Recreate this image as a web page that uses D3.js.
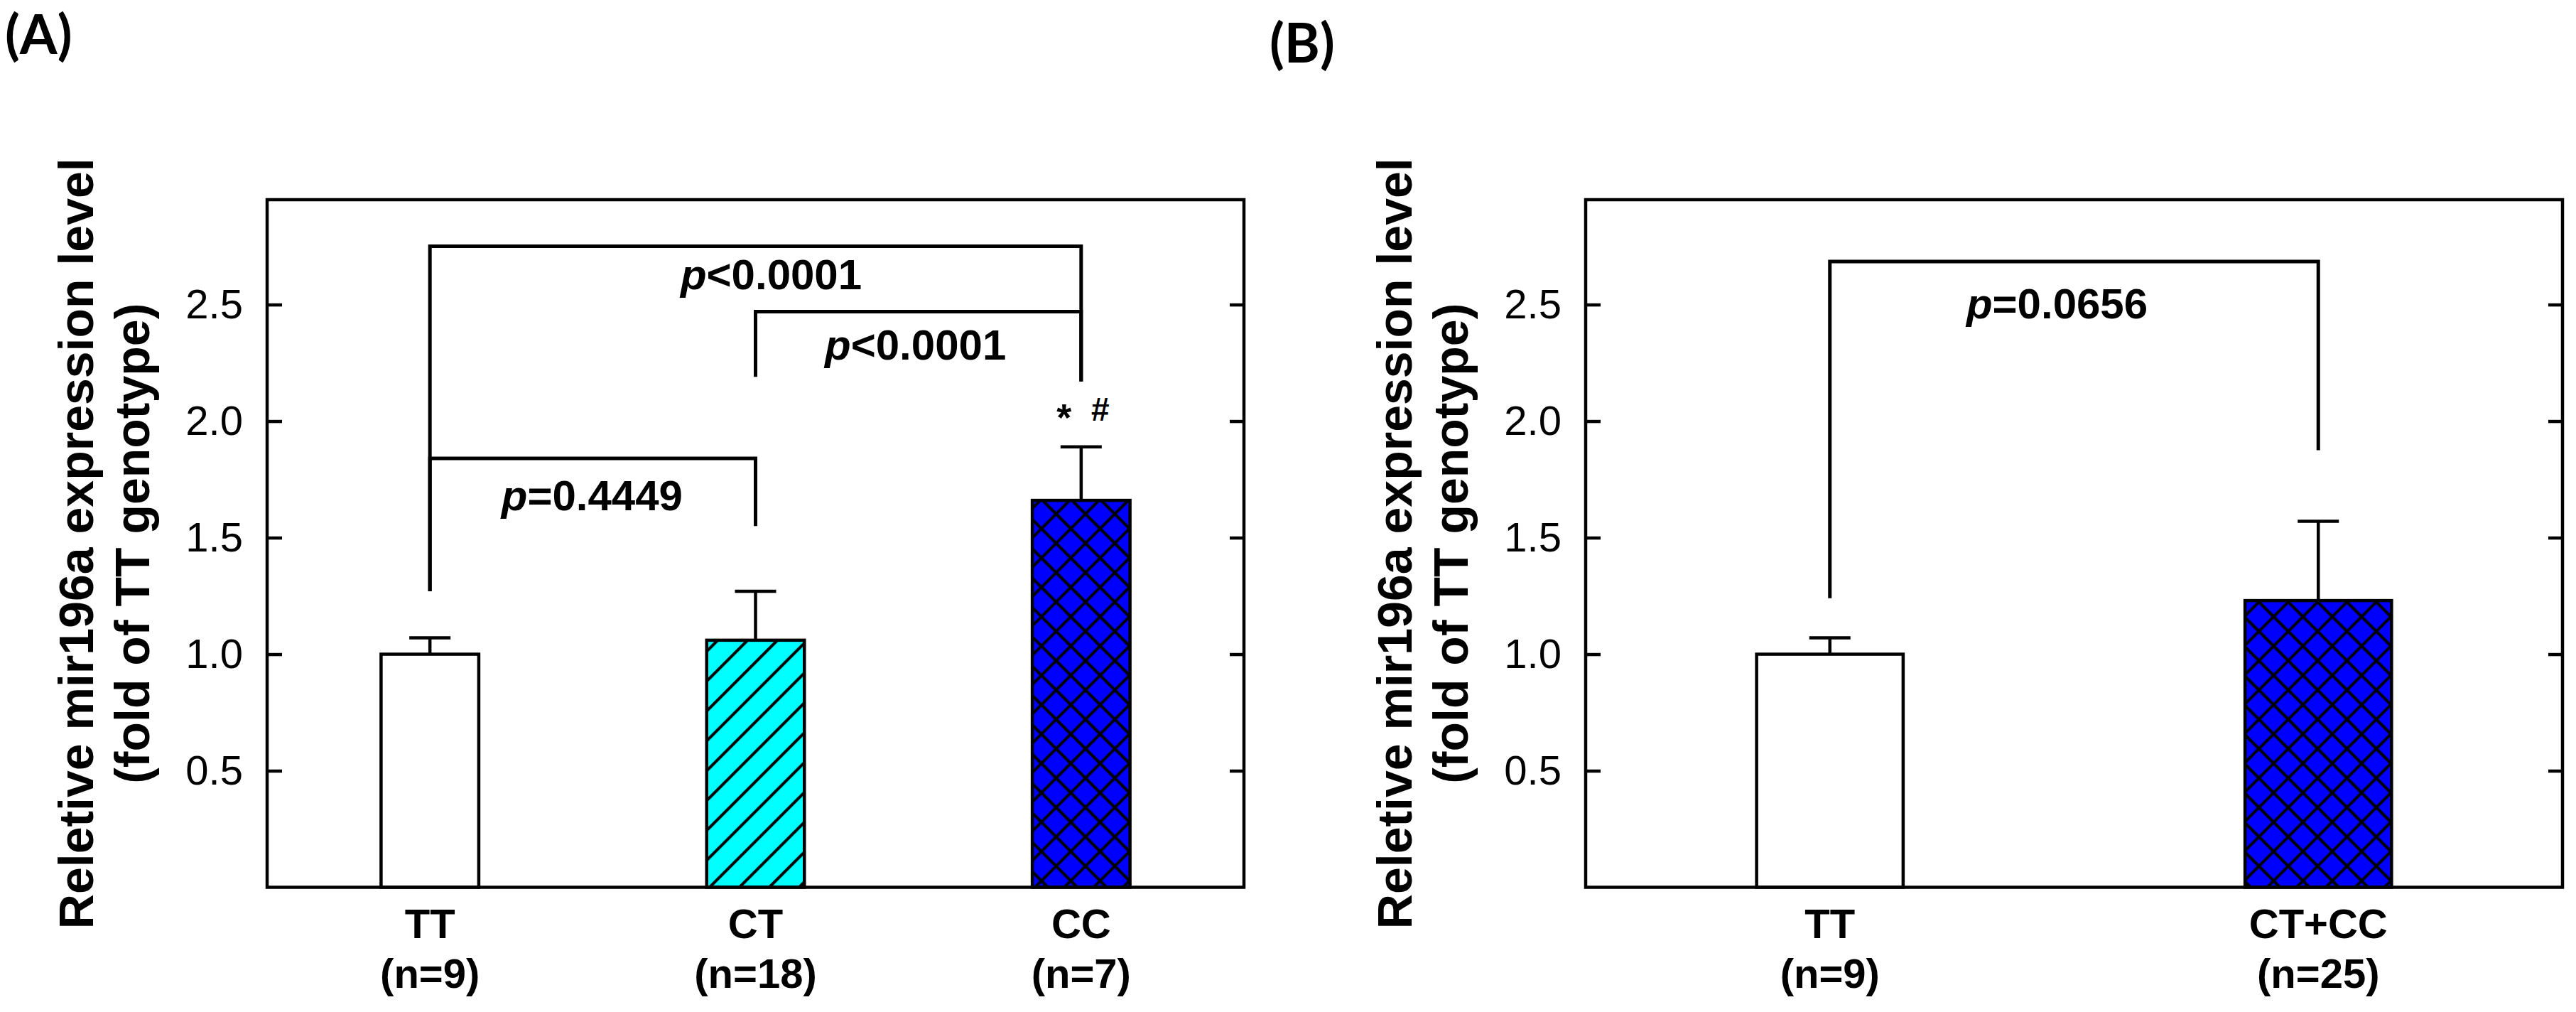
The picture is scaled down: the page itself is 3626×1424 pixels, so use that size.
<!DOCTYPE html>
<html>
<head>
<meta charset="utf-8">
<title>mir196a expression by genotype</title>
<script src="https://d3js.org/d3.v7.min.js"></script>
<style>
  body { margin: 0; background: #fff; }
  text { font-family: "Liberation Sans", Arial, sans-serif; fill: #000; }
  .bold { font-weight: bold; }
  .tag { font-family: Lato, "Open Sans", sans-serif; font-weight: bold; font-size: 76px; }
</style>
</head>
<body>
<div id="chart"></div>
<script>
    const width = 3626;
    const height = 1424;

    // panel A: three genotypes
    const genotypesA = ["TT", "CT", "CC"];
    const countsA = ["(n=9)", "(n=18)", "(n=7)"];
    const meansA = [1.00, 1.06, 1.66];
    const errorsA = [0.07, 0.21, 0.23];

    // panel B: TT vs carriers
    const genotypesB = ["TT", "CT+CC"];
    const countsB = ["(n=9)", "(n=25)"];
    const meansB = [1.00, 1.23];
    const errorsB = [0.07, 0.34];

    const yTicks = [0.5, 1.0, 1.5, 2.0, 2.5];
    const yMax = 2.95;

    // significance brackets, heights in data units
    const bracketsA = [
        { from: "TT", to: "CC", level: 2.75, legFrom: 1.27, legTo: 2.17, op: "<", p: "0.0001", textAt: 2.565 },
        { from: "CT", to: "CC", level: 2.47, legFrom: 2.19, legTo: 2.17, op: "<", p: "0.0001", textAt: 2.265 },
        { from: "TT", to: "CT", level: 1.84, legFrom: 1.27, legTo: 1.55, op: "=", p: "0.4449", textAt: 1.617 }
    ];
    const bracketsB = [
        { from: "TT", to: "CT+CC", level: 2.685, legFrom: 1.24, legTo: 1.875, op: "=", p: "0.0656", textAt: 2.44 }
    ];

    // marks above the CC bar
    const marksA = [{ cat: "CC", symbols: ["*", "#"], at: 2.02 }];

    const yTitle = ["Reletive mir196a expression level", "(fold of TT genotype)"];

    // layout
    const plotTop = 281, plotBottom = 1248.5, plotWidth = 1375;
    const lw = 4.5;

    const svg = d3.select("#chart")
        .append("svg")
        .attr("width", width)
        .attr("height", height);

    const defs = svg.append("defs");

    // cyan with "/" hatching
    const diag = defs.append("pattern")
        .attr("id", "diag")
        .attr("patternUnits", "userSpaceOnUse")
        .attr("width", 29.7).attr("height", 29.7)
        .attr("patternTransform", "rotate(45)");
    diag.append("rect").attr("width", 29.7).attr("height", 29.7).attr("fill", "#00ffff");
    diag.append("line").attr("x1", 15).attr("y1", -1).attr("x2", 15).attr("y2", 31)
        .attr("stroke", "#000").attr("stroke-width", 4);

    // blue with cross hatching
    const cross = defs.append("pattern")
        .attr("id", "cross")
        .attr("patternUnits", "userSpaceOnUse")
        .attr("width", 29.2).attr("height", 29.2)
        .attr("patternTransform", "rotate(45)");
    cross.append("rect").attr("width", 29.2).attr("height", 29.2).attr("fill", "#0000ff");
    cross.append("line").attr("x1", 15).attr("y1", -1).attr("x2", 15).attr("y2", 31)
        .attr("stroke", "#000").attr("stroke-width", 4);
    cross.append("line").attr("x1", -1).attr("y1", 15).attr("x2", 31).attr("y2", 15)
        .attr("stroke", "#000").attr("stroke-width", 4);

    const y = d3.scaleLinear().domain([0, yMax]).range([plotBottom, plotTop]);

    function drawPanel(opt) {
        const left = opt.left;
        const g = svg.append("g");

        const x = d3.scaleBand()
            .domain(opt.cats)
            .range([left, left + plotWidth])
            .paddingInner(0.7)
            .paddingOuter(0.35);
        const cx = c => x(c) + x.bandwidth() / 2;

        // bars
        g.selectAll("rect.bar")
            .data(opt.cats)
            .enter()
            .append("rect")
            .attr("class", "bar")
            .attr("x", d => x(d))
            .attr("y", (d, i) => y(opt.means[i]))
            .attr("width", x.bandwidth())
            .attr("height", (d, i) => y(0) - y(opt.means[i]))
            .attr("fill", (d, i) => opt.fills[i])
            .attr("stroke", "#000")
            .attr("stroke-width", lw);

        // error bars (upper only)
        opt.cats.forEach((c, i) => {
            const top = y(opt.means[i] + opt.errs[i]);
            g.append("line")
                .attr("x1", cx(c)).attr("x2", cx(c))
                .attr("y1", y(opt.means[i])).attr("y2", top)
                .attr("stroke", "#000").attr("stroke-width", lw);
            g.append("line")
                .attr("x1", cx(c) - 29).attr("x2", cx(c) + 29)
                .attr("y1", top).attr("y2", top)
                .attr("stroke", "#000").attr("stroke-width", lw);
        });

        // frame
        g.append("rect")
            .attr("x", left).attr("y", plotTop)
            .attr("width", plotWidth).attr("height", plotBottom - plotTop)
            .attr("fill", "none")
            .attr("stroke", "#000")
            .attr("stroke-width", lw);

        // y axes, ticks pointing inward
        const yl = g.append("g")
            .attr("transform", `translate(${left},0)`)
            .call(d3.axisLeft(y).tickValues(yTicks).tickSize(-21).tickPadding(34).tickFormat(d3.format(".1f")));
        yl.select(".domain").remove();
        yl.selectAll(".tick line").attr("stroke-width", lw);
        yl.selectAll(".tick text")
            .style("font-family", "'Liberation Sans', Arial, sans-serif")
            .style("font-size", "58px")
            .attr("fill", "#000");

        const yr = g.append("g")
            .attr("transform", `translate(${left + plotWidth},0)`)
            .call(d3.axisRight(y).tickValues(yTicks).tickSize(-20).tickFormat(""));
        yr.select(".domain").remove();
        yr.selectAll(".tick line").attr("stroke-width", lw);

        // category labels
        opt.cats.forEach((c, i) => {
            g.append("text").attr("class", "bold")
                .attr("x", cx(c)).attr("y", 1320)
                .attr("text-anchor", "middle")
                .style("font-size", "58px")
                .text(c);
            g.append("text").attr("class", "bold")
                .attr("x", cx(c)).attr("y", 1390)
                .attr("text-anchor", "middle")
                .style("font-size", "58px")
                .text(opt.counts[i]);
        });

        // brackets
        opt.brackets.forEach((b, i) => {
            const x1 = cx(b.from), x2 = cx(b.to);
            g.append("path")
                .attr("d", `M${x1},${y(b.legFrom)}V${y(b.level)}H${x2}V${y(b.legTo)}`)
                .attr("fill", "none")
                .attr("stroke", "#000")
                .attr("stroke-width", 5);
            const t = g.append("text").attr("class", "bold")
                .attr("x", (x1 + x2) / 2 + opt.labelShift[i])
                .attr("y", y(b.textAt))
                .attr("text-anchor", "middle")
                .style("font-size", "60px");
            t.append("tspan").style("font-style", "italic").text("p");
            t.append("tspan").text(b.op + b.p);
        });

        // y title
        yTitle.forEach((line, i) => {
            g.append("text").attr("class", "bold")
                .attr("transform", `translate(${left - 245 + i * 79},${(plotTop + plotBottom) / 2}) rotate(-90)`)
                .attr("text-anchor", "middle")
                .style("font-size", "68px")
                .text(line);
        });

        // panel tag
        g.append("text").attr("class", "tag")
            .attr("x", opt.tag.x).attr("y", opt.tag.y)
            .text(opt.tag.text);

        return { g, cx };
    }

    const pA = drawPanel({
        left: 376,
        cats: genotypesA, counts: countsA, means: meansA, errs: errorsA,
        fills: ["#ffffff", "url(#diag)", "url(#cross)"],
        brackets: bracketsA, labelShift: [22, -4, -1],
        tag: { text: "(A)", x: 7, y: 76 }
    });

    drawPanel({
        left: 2232,
        cats: genotypesB, counts: countsB, means: meansB, errs: errorsB,
        fills: ["#ffffff", "url(#cross)"],
        brackets: bracketsB, labelShift: [-24],
        tag: { text: "(B)", x: 1787, y: 88 }
    });

    // "* #" over CC
    marksA.forEach(m => {
        pA.g.append("text").attr("class", "bold")
            .attr("x", pA.cx(m.cat) - 24).attr("y", y(m.at) + 20)
            .attr("text-anchor", "middle")
            .style("font-size", "54px")
            .text(m.symbols[0]);
        pA.g.append("text").attr("class", "bold")
            .attr("x", pA.cx(m.cat) + 27).attr("y", y(m.at) + 6)
            .attr("text-anchor", "middle")
            .style("font-size", "46px")
            .text(m.symbols[1]);
    });
</script>
</body>
</html>
